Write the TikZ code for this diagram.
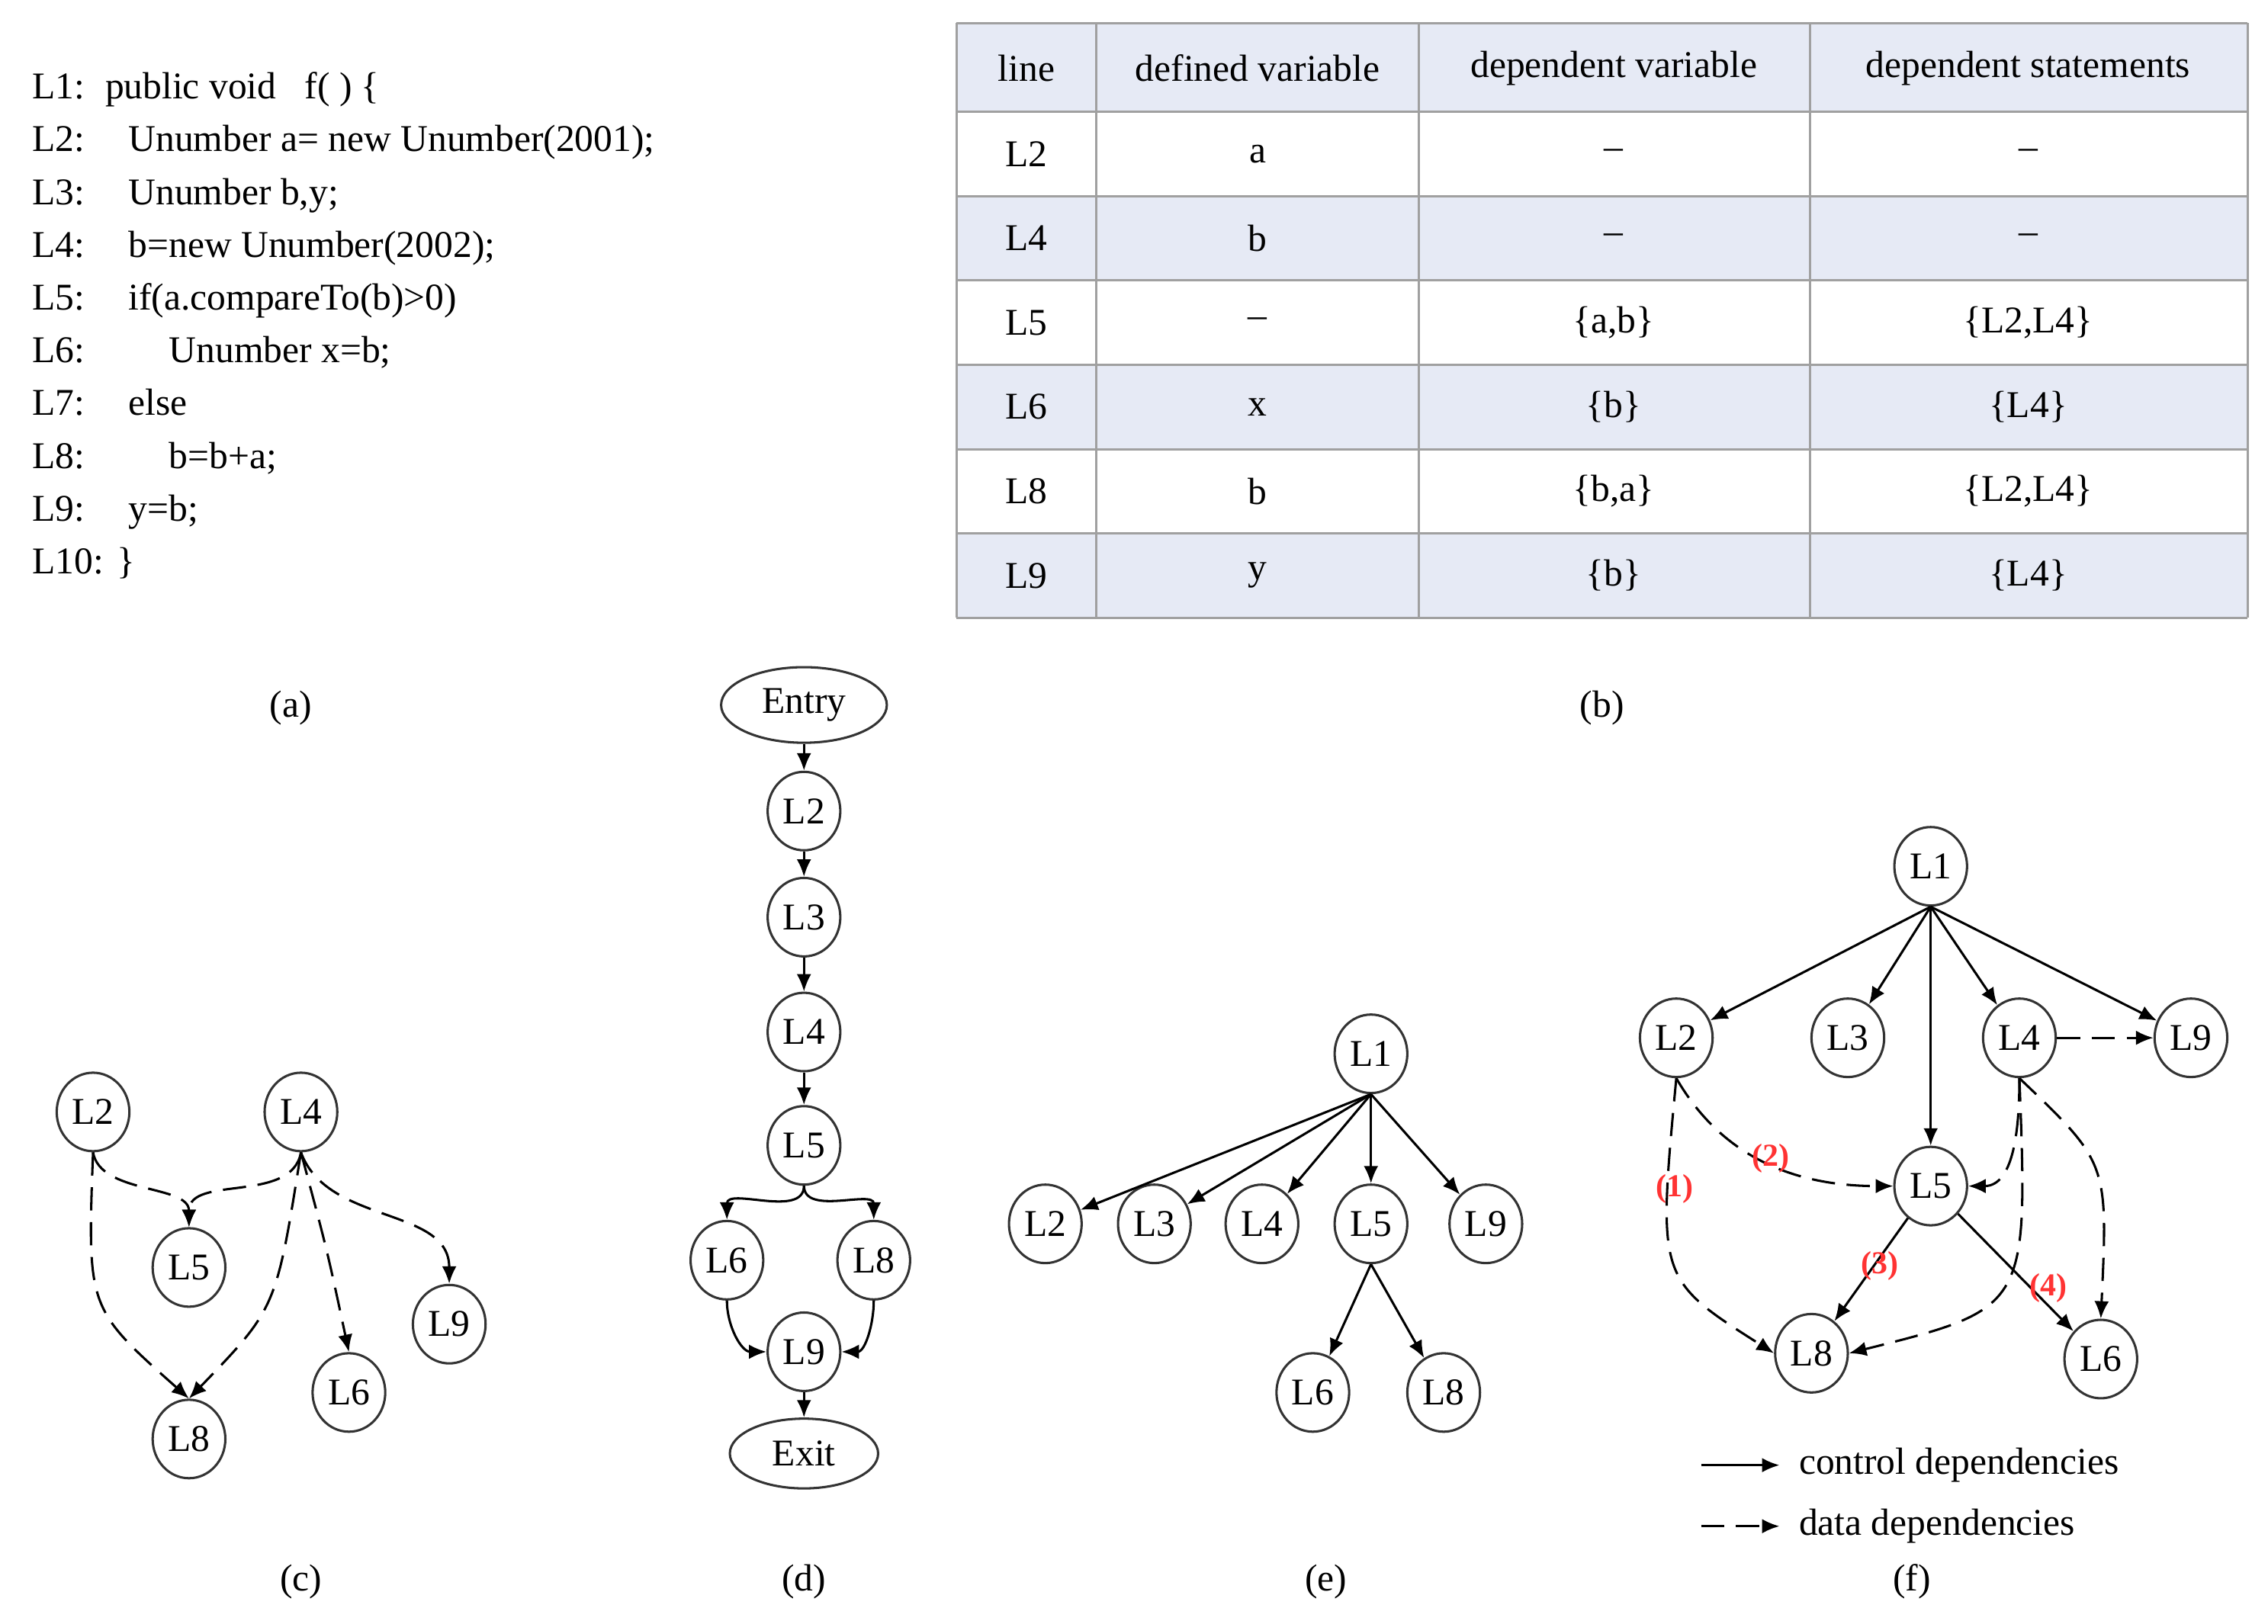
\documentclass[tikz,border=0pt]{standalone}
\usepackage{fontspec}
\setmainfont{Liberation Serif}
\usetikzlibrary{positioning}
\usetikzlibrary{shapes.geometric}
\usetikzlibrary{arrows.meta}
\definecolor{rowblue}{RGB}{230,234,245}
\definecolor{gridgray}{RGB}{160,160,160}
\begin{document}
\begin{tikzpicture}
    [x=0.5pt, y=-0.5pt, font=\fontsize{13}{15}\selectfont,
      every node/.style={inner sep=0pt},
      st/.style={draw=black!80, thick, ellipse, minimum width=25pt, minimum height=27pt},
      term/.style={draw=black!80, thick, ellipse, minimum width=57pt, minimum height=26pt},
      ctl/.style={thick, -{Latex[length=6pt,width=5pt]}},
      dat/.style={thick, dash pattern=on 8pt off 4pt, -{Latex[length=6pt,width=5pt]}},
      lab/.style={text=red!80, font=\fontsize{11}{13}\selectfont\bfseries},
      caption/.style={anchor=center},
     ]
    \useasboundingbox (0,0) rectangle (1560,1117);
    % (a) code
    \foreach \l/\t [count=\i from 0] in {L1:/{public void \ \ f( ) \{},L2:/{Unumber a= new Unumber(2001);},
        L3:/{Unumber b,y;},L4:/{b=new Unumber(2002);},L5:/{if(a.compareTo(b)>0)},
        L6:/{\hspace{14pt}Unumber x=b;},L7:/else,L8:/{\hspace{14pt}b=b+a;},L9:/{y=b;},L10:/\}}
      {
        \node[anchor=base west] (c\i) at (22,{68+36.3*\i}) {\l};
        \ifnum\i=0 \node[anchor=base west] at (72,68) {\t};
        \else\ifnum\i=9 \node[anchor=base west] at (80,{68+36.3*\i}) {\t};
        \else \node[anchor=base west] at (88,{68+36.3*\i}) {\t};\fi\fi
      }
    \node[caption] (capa) at (200,487) {(a)};
    % (b) table
    \fill[rowblue] (658,16) rectangle (1546,77);
    \foreach \y in {135,251,367} \fill[rowblue] (658,\y) rectangle (1546,\y+58);
    \foreach \y in {16,77,135,193,251,309,367,425} \draw[gridgray, thick] (658,\y) -- (1546,\y);
    \foreach \x in {658,754,976,1245,1546} \draw[gridgray, thick] (\x,16) -- (\x,425);
    \foreach \a/\b/\c/\d [count=\r from 0] in {line/defined variable/dependent variable/dependent statements,
        L2/a/--/--, L4/b/--/--, L5/--/{\{a,b\}}/{\{L2,L4\}}, L6/x/{\{b\}}/{\{L4\}},
        L8/b/{\{b,a\}}/{\{L2,L4\}}, L9/y/{\{b\}}/{\{L4\}}}
      {
        \pgfmathsetmacro\yy{\r==0 ? 47 : 77+58*(\r-1)+29}
        \node (t\r a) at (706,\yy) {\a};
        \node (t\r b) at (865,\yy) {\b};
        \node (t\r c) at (1110,\yy) {\c};
        \node (t\r d) at (1395,\yy) {\d};
      }
    \node[caption] (capb) at (1102,487) {(b)};
    % (c) data dependence graph
    \node[st] (c2) at (64,765) {L2};
    \node[st] (c4) at (207,765) {L4};
    \node[st] (c5) at (130,872) {L5};
    \node[st] (c8) at (130,990) {L8};
    \node[st] (c6) at (240,958) {L6};
    \node[st] (c9) at (309,911) {L9};
    \draw[dat] (c2.south) to[out=-80,in=90,looseness=0.9] (c5.north);
    \draw[dat] (c2.south) .. controls (60,900) .. (c8.north);
    \draw[dat] (c4.south) to[out=-100,in=90] (c5.north);
    \draw[dat] (c4.south) .. controls (190,900) .. (c8.north);
    \draw[dat] (c4.south) .. controls (225,860) .. (c6.north);
    \draw[dat] (c4.south) to[out=-70,in=90] (c9.north);
    \node[caption] (capc) at (207,1088) {(c)};
    % (d) control flow graph
    \node[term] (entry) at (553,485) {Entry};
    \node[st] (d2) at (553,558) {L2};
    \node[st] (d3) at (553,631) {L3};
    \node[st] (d4) at (553,710) {L4};
    \node[st] (d5) at (553,788) {L5};
    \node[st] (d6) at (500,867) {L6};
    \node[st] (d8) at (601,867) {L8};
    \node[st] (d9) at (553,930) {L9};
    \node[term, minimum width=51pt, minimum height=24pt] (exit) at (553,1000) {Exit};
    \draw[ctl] (entry) -- (d2);
    \draw[ctl] (d2) -- (d3);
    \draw[ctl] (d3) -- (d4);
    \draw[ctl] (d4) -- (d5);
    \draw[ctl] (d5.south) to[out=-90,in=90] (d6.north);
    \draw[ctl] (d5.south) to[out=-90,in=90] (d8.north);
    \draw[ctl] (d6.south) to[out=-90,in=180] (d9.west);
    \draw[ctl] (d8.south) to[out=-90,in=0] (d9.east);
    \draw[ctl] (d9) -- (exit);
    \node[caption] (capd) at (553,1088) {(d)};
    % (e) control dependence tree
    \node[st] (e1) at (943,725) {L1};
    \node[st] (e2) at (719,842) {L2};
    \node[st] (e3) at (794,842) {L3};
    \node[st] (e4) at (868,842) {L4};
    \node[st] (e5) at (943,842) {L5};
    \node[st] (e9) at (1022,842) {L9};
    \node[st] (e6) at (903,958) {L6};
    \node[st] (e8) at (993,958) {L8};
    \foreach \n in {e2,e3,e4,e5,e9} \draw[ctl] (e1.south) -- (\n);
    \draw[ctl] (e5.south) -- (e6);
    \draw[ctl] (e5.south) -- (e8);
    \node[caption] (cape) at (912,1088) {(e)};
    % (f) program dependence graph
    \node[st] (f1) at (1328,596) {L1};
    \node[st] (f2) at (1153,714) {L2};
    \node[st] (f3) at (1271,714) {L3};
    \node[st] (f4) at (1389,714) {L4};
    \node[st] (f9) at (1507,714) {L9};
    \node[st] (f5) at (1328,816) {L5};
    \node[st] (f8) at (1246,931) {L8};
    \node[st] (f6) at (1445,935) {L6};
    \foreach \n in {f2,f3,f4,f5,f9} \draw[ctl] (f1.south) -- (\n);
    \draw[ctl] (f5) -- (f8);
    \draw[ctl] (f5) -- (f6);
    \draw[dat] (f4) -- (f9);
    \draw[dat] (f2.south) to[out=-60,in=180] (f5.west);
    \draw[dat] (f2.south) .. controls (1140,880) .. (f8.west);
    \draw[dat] (f4.south) to[out=-90,in=0] (f5.east);
    \draw[dat] (f4.south) .. controls (1395,900) .. (f8.east);
    \draw[dat] (f4.south) .. controls (1450,800) .. (f6.north);
    \node[lab] (n1) at (1152,818) {(1)};
    \node[lab] (n2) at (1218,797) {(2)};
    \node[lab] (n3) at (1293,871) {(3)};
    \node[lab] (n4) at (1409,886) {(4)};
    % legend
    \coordinate (lc1) at (1170,1008);
    \coordinate (lc2) at (1224,1008);
    \coordinate (ld1) at (1170,1050);
    \coordinate (ld2) at (1224,1050);
    \draw[ctl] (lc1) -- (lc2);
    \draw[dat] (ld1) -- (ld2);
    \node[anchor=west] (lct) at (1237,1008) {control dependencies};
    \node[anchor=west] (ldt) at (1237,1050) {data dependencies};
    \node[caption] (capf) at (1315,1088) {(f)};
\end{tikzpicture}
\end{document}
